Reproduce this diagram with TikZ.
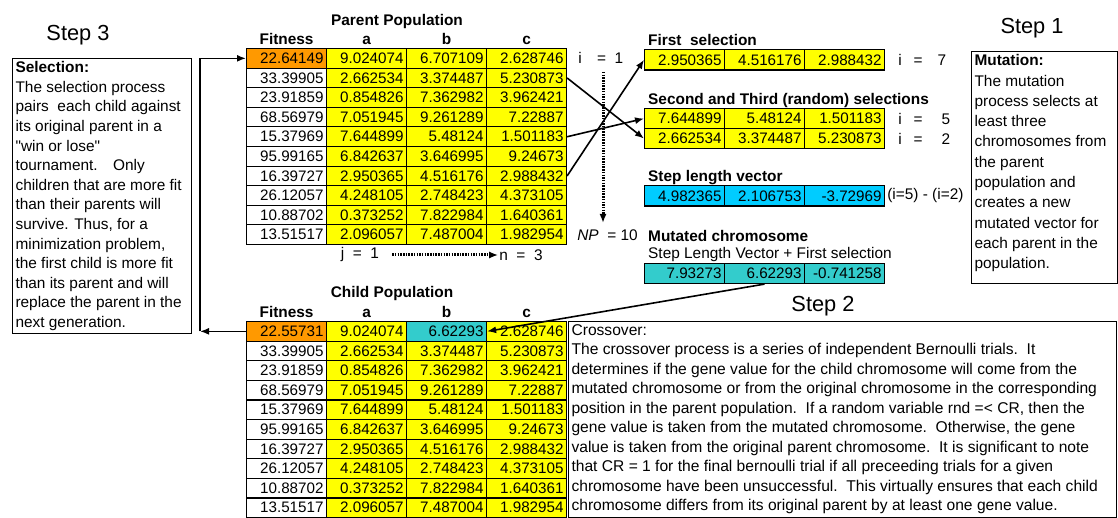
\documentclass[tikz,border=0pt]{standalone}
\usepackage{fontspec}
\setmainfont{Liberation Sans}
\usetikzlibrary{positioning,arrows.meta}

\definecolor{genefill}{RGB}{255,255,0}
\definecolor{bestfill}{RGB}{255,153,0}
\definecolor{stepfill}{RGB}{0,204,255}
\definecolor{mutfill}{RGB}{51,204,204}

\newcommand{\numfont}{\fontsize{15.2}{18}\selectfont}
\newcommand{\txtfont}{\fontsize{15.4}{19.6}\selectfont}
\newcommand{\stepfont}{\fontsize{21.8}{26}\selectfont}

\tikzset{
  cell/.style={draw, fill=white, line width=1.1pt, anchor=north west, minimum height=19.6pt,
    text width=74pt, inner xsep=3pt, inner ysep=0pt, align=right, font=\numfont},
  gene/.style={cell, fill=genefill},
  hdr/.style={font=\txtfont\bfseries, inner sep=1pt, text depth=2pt},
  lbl/.style={font=\txtfont, inner sep=1pt},
  arr/.style={-{Latex[length=9pt,width=7pt]}, line width=1.6pt},
  dotarr/.style={arr, line width=3pt, dash pattern=on 1.5pt off 1.2pt},
  textbox/.style={draw, line width=1.1pt, anchor=north west, inner sep=3pt},
}

\begin{document}
\begin{tikzpicture}[x=1pt,y=-1pt]
\useasboundingbox (0,0) rectangle (1118,518);

% parent and child populations
\node[cell, fill=bestfill] (pf1) at (246,48) {22.64149};
\node[gene] (pa1) at (326,48) {9.024074};
\node[gene] (pb1) at (406,48) {6.707109};
\node[gene] (pc1) at (486,48) {2.628746};
\node[cell, fill=bestfill] (cf1) at (246,321) {22.55731};
\node[gene] (ca1) at (326,321) {9.024074};
\node[cell, fill=mutfill] (cb1) at (406,321) {6.62293};
\node[gene] (cc1) at (486,321) {2.628746};
\foreach \tbl/\y in {p/48, c/321}
  \foreach \f/\a/\b/\c [count=\r from 2] in {33.39905/2.662534/3.374487/5.230873,
      23.91859/0.854826/7.362982/3.962421, 68.56979/7.051945/9.261289/7.22887,
      15.37969/7.644899/5.48124/1.501183, 95.99165/6.842637/3.646995/9.24673,
      16.39727/2.950365/4.516176/2.988432, 26.12057/4.248105/2.748423/4.373105,
      10.88702/0.373252/7.822984/1.640361, 13.51517/2.096057/7.487004/1.982954} {
    \node[cell] (\tbl f\r) at (246,{\y+(\r-1)*19.6}) {\f};
    \node[gene] (\tbl a\r) at (326,{\y+(\r-1)*19.6}) {\a};
    \node[gene] (\tbl b\r) at (406,{\y+(\r-1)*19.6}) {\b};
    \node[gene] (\tbl c\r) at (486,{\y+(\r-1)*19.6}) {\c};
  }
\foreach \tbl in {p, c} {
  \node[hdr, anchor=south] (\tbl hf) at (\tbl f1.north) {Fitness};
  \node[hdr, anchor=south] (\tbl ha) at (\tbl a1.north) {a};
  \node[hdr, anchor=south] (\tbl hb) at (\tbl b1.north) {b};
  \node[hdr, anchor=south] (\tbl hc) at (\tbl c1.north) {c};
}
\node[hdr] (ptitle) at (397,21) {Parent Population};
\node[hdr] (ctitle) at (392,293) {Child Population};

% indices
\node[lbl, anchor=west] (ione) at ([xshift=10pt]pc1.east) {i\quad=\ \ 1};
\node[lbl, anchor=west] (np) at ([xshift=9pt]pc10.east) {\textit{NP}\ \ = 10};
\node[lbl] (jlab) at (360,255) {j\ \ =\ \ 1};
\node[lbl] (nlab) at (521,255) {n\ \ =\ \ 3};
\coordinate (npTop) at (603,72);
\coordinate (npEnd) at (603,223);
\draw[dotarr] (npTop) -- (npEnd);
\draw[dotarr] ([xshift=12pt]jlab.east) -- (nlab.west);

% selected vectors
\foreach \v [count=\k] in {2.950365,4.516176,2.988432}
  \node[gene, minimum height=20.5pt] (fs\k) at ({644+(\k-1)*80},49) {\v};
\foreach \v [count=\k] in {7.644899,5.48124,1.501183}
  \node[gene, minimum height=20pt] (sa\k) at ({644+(\k-1)*80},108) {\v};
\foreach \v [count=\k] in {2.662534,3.374487,5.230873}
  \node[gene, minimum height=20pt] (sb\k) at ({644+(\k-1)*80},128) {\v};
\foreach \v [count=\k] in {4.982365,2.106753,-3.72969}
  \node[cell, fill=stepfill, minimum height=20.5pt] (sv\k) at ({644+(\k-1)*80},185) {\v};
\foreach \v [count=\k] in {7.93273,6.62293,-0.741258}
  \node[cell, fill=mutfill, minimum height=20pt] (mc\k) at ({644+(\k-1)*80},263) {\v};

\node[hdr, anchor=south west] (fstitle) at ([xshift=3pt]fs1.north west) {First\ \ selection};
\node[hdr, anchor=south west] (satitle) at ([xshift=3pt]sa1.north west) {Second and Third (random) selections};
\node[hdr, anchor=south west] (svtitle) at ([xshift=3pt]sv1.north west) {Step length vector};
\node[lbl, anchor=south west] (mcsub) at ([xshift=3pt]mc1.north west) {Step Length Vector + First selection};
\node[hdr, anchor=south west] (mctitle) at ([yshift=2pt]mcsub.north west) {Mutated chromosome};
\node[lbl, anchor=west] (iseven) at ([xshift=12pt]fs3.east) {i\hspace{12pt}=\hspace{15pt}7};
\node[lbl, anchor=west] (ifive) at ([xshift=12pt]sa3.east) {i\hspace{12pt}=\hspace{19pt}5};
\node[lbl, anchor=west] (itwo) at ([xshift=12pt]sb3.east) {i\hspace{12pt}=\hspace{19pt}2};
\node[lbl, anchor=west] (diff) at ([xshift=1pt]sv3.east) {(i=5) - (i=2)};

\draw[arr] (pc2.east) -- (sb1.west);
\draw[arr] (pc5.east) -- (sa1.west);
\draw[arr] (pc7.east) -- (fs1.west);
\draw[arr] (mc2.south) -- (cb1.east);

% steps
\node[font=\stepfont] (step1) at (1032,28) {Step 1};
\node[font=\stepfont] (step2) at (823,306) {Step 2};
\node[font=\stepfont] (step3) at (78,35) {Step 3};

\node[textbox, font=\txtfont] (selbox) at (12,58) {\parbox[t][269pt][t]{173pt}{\raggedright
  \textbf{Selection:}\\ The selection process\\ pairs\ \ each child against\\ its original parent in a\\
  \textquotedbl win or lose\textquotedbl\\ tournament.\quad Only\\ children that are more fit\\ than their parents will\\
  survive. Thus, for a\\ minimization problem,\\ the first child is more fit\\ than its parent and will\\
  replace the parent in the\\ next generation.}};
\node[textbox, font=\fontsize{15.4}{20.3}\selectfont] (mutbox) at (971,51) {\parbox[t][226pt][t]{140pt}{\raggedright
  \textbf{Mutation:}\\ The mutation\\ process selects at\\ least three\\ chromosomes from\\ the parent\\
  population and\\ creates a new\\ mutated vector for\\ each parent in the\\ population.}};
\node[textbox, font=\fontsize{15.6}{19.5}\selectfont] (crossbox) at (568,321) {\parbox[t][190pt][t]{542pt}{\raggedright
  Crossover:\\
  The crossover process is a series of independent Bernoulli trials.\ \ It\\
  determines if the gene value for the child chromosome will come from the\\
  mutated chromosome or from the original chromosome in the corresponding\\
  position in the parent population.\ \ If a random variable rnd =< CR, then the\\
  gene value is taken from the mutated chromosome.\ \ Otherwise, the gene\\
  value is taken from the original parent chromosome.\ \ It is significant to note\\
  that CR = 1 for the final bernoulli trial if all preceeding trials for a given\\
  chromosome have been unsuccessful.\ \ This virtually ensures that each child\\
  chromosome differs from its original parent by at least one gene value.}};

% selection loop back to the parents
\coordinate (turn) at (200,0);
\draw[arr] (cf1.west) -- (cf1.west -| turn);
\draw[arr] (cf1.west -| turn) |- (pf1.west);
\end{tikzpicture}
\end{document}
